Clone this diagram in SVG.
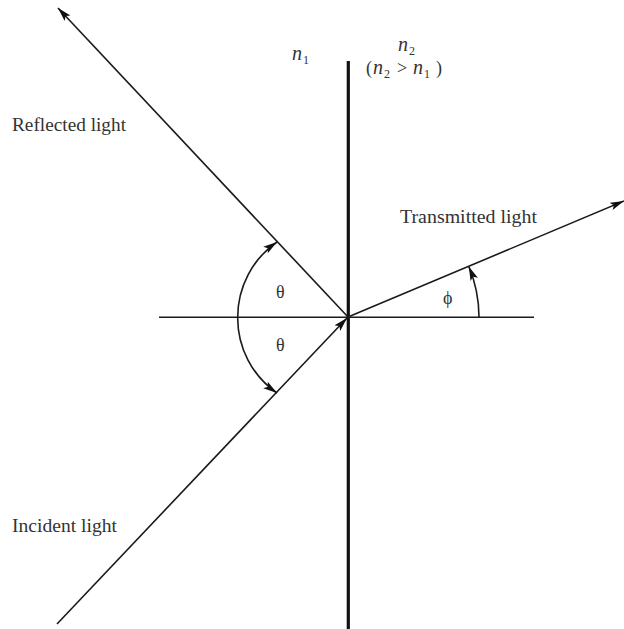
<svg xmlns="http://www.w3.org/2000/svg" width="624" height="629" viewBox="0 0 624 629">
<style>
.ln{stroke:#1a1a1a;stroke-width:1.6;fill:none}
.t{font-family:"Liberation Serif","DejaVu Serif",serif;font-size:18px;fill:#333}
.n{font-family:"Liberation Serif","DejaVu Serif",serif;font-size:20px;font-style:italic;fill:#333}
.s{font-family:"Liberation Serif","DejaVu Serif",serif;font-size:12px;fill:#333}
</style>
<defs>
<marker id="ah" markerUnits="userSpaceOnUse" markerWidth="16" markerHeight="10" refX="14" refY="4" orient="auto">
<path d="M0,0 L14,4 L0,8 L3,4 Z" fill="#111"/>
</marker>
</defs>
<rect width="624" height="629" fill="#fff"/>
<g id="boundary">
<line x1="348.3" y1="61" x2="348.3" y2="629" stroke="#111" stroke-width="3.2"/>
</g>
<g id="normal">
<line class="ln" x1="159" y1="317.3" x2="534" y2="317.3"/>
</g>
<g id="connectors">
<line id="incident" class="ln" x1="57" y1="624" x2="347" y2="318" marker-end="url(#ah)"/>
<line id="reflected" class="ln" x1="348" y1="317" x2="58" y2="8" marker-end="url(#ah)"/>
<line id="transmitted" class="ln" x1="348" y1="317" x2="624" y2="201" marker-end="url(#ah)"/>
<path id="theta-arc-up" class="ln" d="M237.7,317.3 A91.5,91.5 0 0 1 277,242" marker-end="url(#ah)"/>
<path id="theta-arc-down" class="ln" d="M237.7,317.3 A91.5,91.5 0 0 0 277,393" marker-end="url(#ah)"/>
<path id="phi-arc" class="ln" d="M479,317.3 A131,131 0 0 0 468.8,266.5" marker-end="url(#ah)"/>
</g>
<g id="labels">
<text class="t" x="12" y="131" textLength="114" lengthAdjust="spacingAndGlyphs">Reflected light</text>
<text class="t" x="12" y="532" textLength="105" lengthAdjust="spacingAndGlyphs">Incident light</text>
<text class="t" x="400" y="223" textLength="137" lengthAdjust="spacingAndGlyphs">Transmitted light</text>
<text class="t" x="276" y="298">θ</text>
<text class="t" x="276" y="351">θ</text>
<text class="t" x="443" y="304">ϕ</text>
<text class="n" x="292" y="60">n</text><text class="s" x="303" y="64">1</text>
<text class="n" x="398" y="51">n</text><text class="s" x="409" y="55">2</text>
<text class="t" x="366" y="74">(</text>
<text class="n" x="373" y="74">n</text><text class="s" x="384" y="78">2</text>
<text class="t" x="397" y="74">&gt;</text>
<text class="n" x="413" y="74">n</text><text class="s" x="424" y="78">1</text>
<text class="t" x="436" y="74">)</text>
</g>
</svg>
